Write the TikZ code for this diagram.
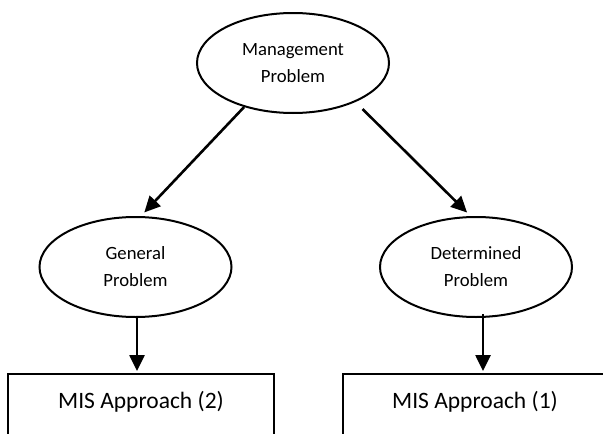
\documentclass[tikz,border=0pt]{standalone}
\usepackage{fontspec}
\setmainfont{Carlito}
\usetikzlibrary{arrows.meta,shapes.geometric}
\begin{document}
\begin{tikzpicture}[x=1pt,y=-1pt,
  oval/.style={draw=black, line width=2pt, ellipse, minimum width=192pt, minimum height=100pt, inner sep=0pt, align=center, font=\fontsize{18.7}{27}\selectfont},
  misbox/.style={draw=black, line width=1.8pt, rectangle, anchor=north, inner sep=0pt, text height=35pt, text depth=70pt, font=\fontsize{23.5}{28}\selectfont},
  arr/.style={line width=2.6pt, -{Triangle[length=16pt,width=15pt]}}]
\useasboundingbox (0,0) rectangle (603,434);
\clip (0,0) rectangle (603,434);
\node[oval] (top) at (293,63) {Management\\Problem};
\node[oval] (gen) at (135.5,267) {General\\Problem};
\node[oval] (det) at (476,267) {Determined\\Problem};
\node[misbox, minimum width=266pt] (box2) at (141,373) {MIS Approach (2)};
\node[misbox, minimum width=264pt] (box1) at (475,373) {MIS Approach (1)};
\draw[arr, shorten >=5pt] (top.222) -- (gen.84);
\draw[arr, shorten <=10pt, shorten >=5pt] (top.-32) -- (det.96);
\draw[arr, shorten >=2pt] ([xshift=1.5pt]gen.south) -- ([xshift=1.5pt]gen.south |- box2.north);
\draw[arr, shorten >=2pt] ([xshift=7pt,yshift=4pt]det.south) -- ([xshift=7pt]det.south |- box1.north);
\end{tikzpicture}
\end{document}
